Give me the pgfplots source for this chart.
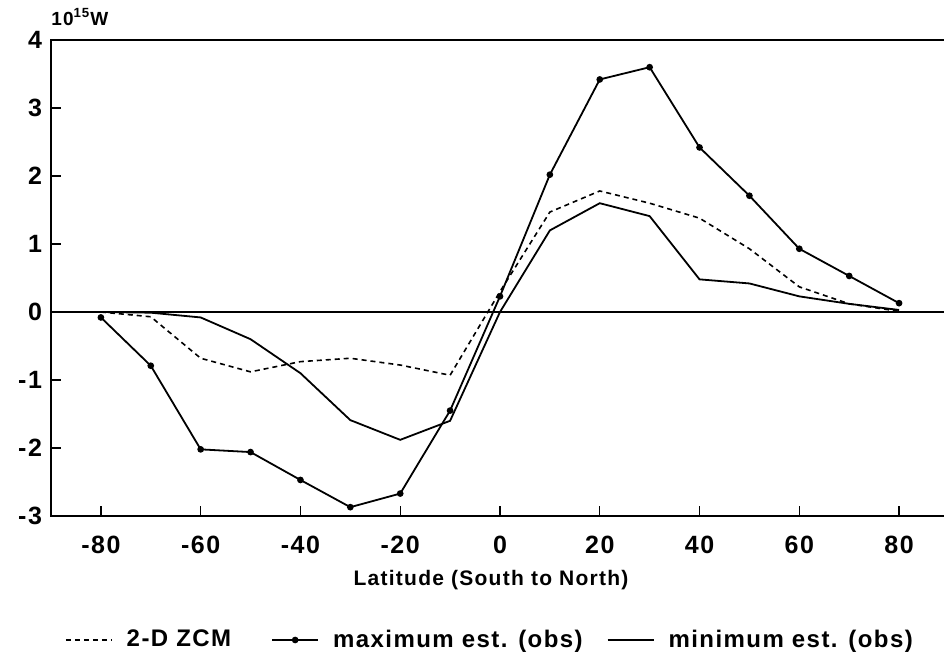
\documentclass[border=0pt]{standalone}
\usepackage{pgfplots}
\pgfplotsset{compat=1.18}
\usepackage{fontspec}
\setmainfont{Liberation Sans}[LetterSpace=6]

\begin{document}
\begin{tikzpicture}
\useasboundingbox (-25.5pt,-69pt) rectangle (446.5pt,258pt);
\begin{axis}[
  at={(0pt,0pt)}, anchor=south west,
  scale only axis, width=449pt, height=238pt,
  xmin=-90, xmax=90, ymin=-3, ymax=4,
  xtick={-80,-60,...,80}, ytick={-3,-2,...,4},
  tick align=inside, major tick length=5pt,
  xtick pos=bottom, ytick pos=left,
  axis line style={line width=0.9pt},
  tick style={line width=0.7pt, black},
  /pgf/number format/assume math mode=true,
  ticklabel style={font=\fontsize{12.5}{14}\selectfont\bfseries},
  xticklabel style={anchor=center, yshift=-14.5pt},
  yticklabel style={anchor=east, xshift=-1pt},
  xlabel={Latitude (South to North)},
  xlabel style={font=\fontsize{10.5}{12}\selectfont\bfseries,
    at={(axis description cs:0.49,-0.1345)}, anchor=center},
  legend style={at={(axis description cs:0.49,-0.2605)}, anchor=center,
    draw=none, fill=none, font=\fontsize{12}{14}\selectfont\bfseries,
    /tikz/every odd column/.append style={column sep=5pt},
    /tikz/every even column/.append style={column sep=10pt}},
  legend columns=-1,
  legend image code/.code={\draw[mark repeat=2,mark phase=2,#1]
    plot coordinates {(0pt,0pt) (11.5pt,0pt) (23pt,0pt)};},
]
% zero line
\addplot[black, line width=0.9pt, forget plot] coordinates {(-90,0) (90,0)};

% 2-D zonally averaged climate model
\addplot[black, line width=0.8pt, dash pattern=on 2.5pt off 2pt] coordinates {
  (-80,0) (-70,-0.07) (-60,-0.68) (-50,-0.88) (-40,-0.73) (-30,-0.68)
  (-20,-0.78) (-10,-0.93) (0,0.3) (10,1.47) (20,1.78) (30,1.6)
  (40,1.38) (50,0.93) (60,0.37) (70,0.12) (80,0.01)};
\addlegendentry{2-D ZCM\hspace*{8pt}}

% maximum observational estimate
\addplot[black, line width=0.9pt, mark=*, mark size=1.2pt] coordinates {
  (-80,-0.08) (-70,-0.79) (-60,-2.02) (-50,-2.06) (-40,-2.47) (-30,-2.87)
  (-20,-2.67) (-10,-1.45) (0,0.23) (10,2.02) (20,3.42) (30,3.6)
  (40,2.42) (50,1.71) (60,0.93) (70,0.53) (80,0.13)};
\addlegendentry{maximum est. (obs)}

% minimum observational estimate
\addplot[black, line width=0.9pt] coordinates {
  (-80,0) (-70,-0.01) (-60,-0.08) (-50,-0.4) (-40,-0.9) (-30,-1.59)
  (-20,-1.88) (-10,-1.6) (0,0.0) (10,1.2) (20,1.6) (30,1.41)
  (40,0.48) (50,0.42) (60,0.23) (70,0.12) (80,0.03)};
\addlegendentry{minimum est. (obs)}
\end{axis}
\node[anchor=base west, inner sep=0pt, font=\fontsize{9.5}{11}\selectfont\bfseries]
  at ([yshift=7.5pt]current axis.north west) {10\textsuperscript{15}W};
\end{tikzpicture}
\end{document}
